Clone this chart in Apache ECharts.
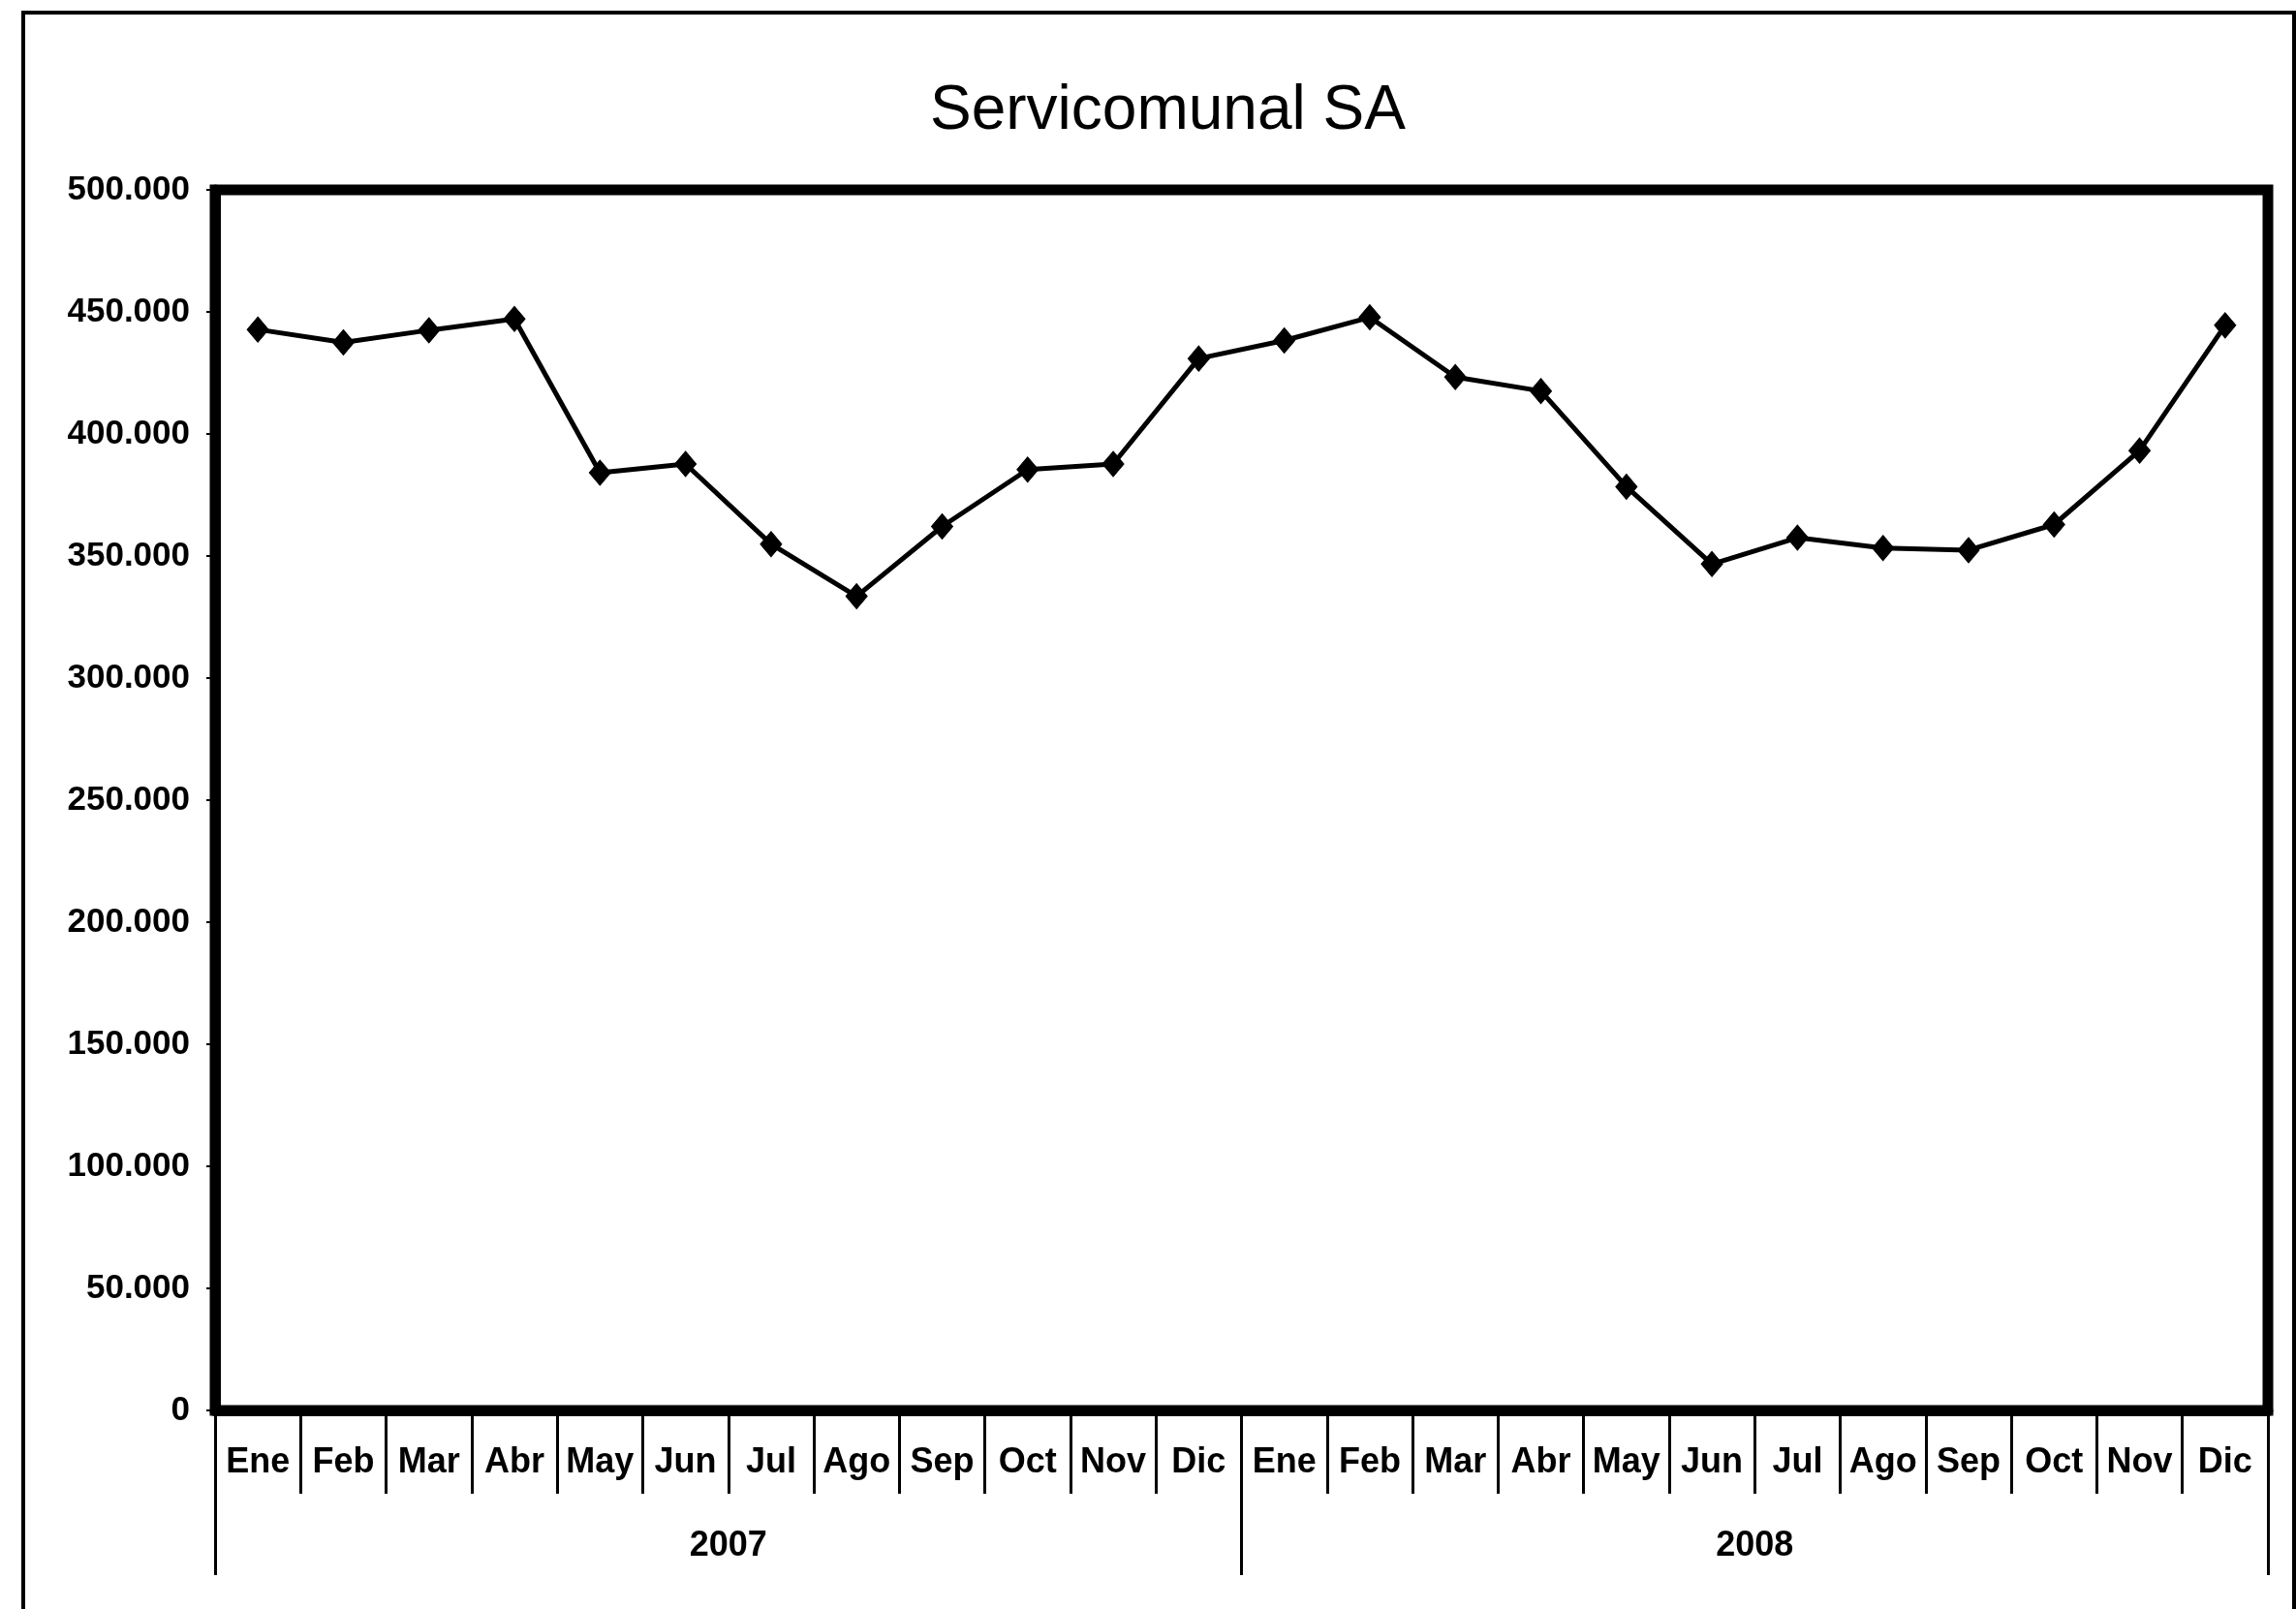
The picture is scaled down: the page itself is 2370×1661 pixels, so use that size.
<!DOCTYPE html>
<html>
<head>
<meta charset="utf-8">
<script src="https://cdn.jsdelivr.net/npm/echarts@6/dist/echarts.min.js"></script>
<style>
  html, body { margin: 0; padding: 0; background: #fff; }
  #chart { width: 2370px; height: 1661px; }
</style>
</head>
<body>
<div id="chart"></div>
<script>
const titleText = "Servicomunal SA";
const months = ["Ene","Feb","Mar","Abr","May","Jun","Jul","Ago","Sep","Oct","Nov","Dic",
                "Ene","Feb","Mar","Abr","May","Jun","Jul","Ago","Sep","Oct","Nov","Dic"];
const years = ["2007", "2008"];
const values = [442800, 437500, 442500, 447100, 384100, 387700, 354900, 333500, 362100, 385400, 387700, 430900,
                438300, 447800, 423300, 417600, 378400, 346700, 357500, 353300, 352400, 362900, 393200, 444500];
const yMin = 0, yMax = 500000, yStep = 50000;

const FONT = "'Liberation Sans', Arial, sans-serif";
const chart = echarts.init(document.getElementById('chart'), null, { renderer: 'canvas' });

function fmt(v) {
  return String(v).replace(/\B(?=(\d{3})+(?!\d))/g, '.');
}

chart.setOption({
  backgroundColor: '#ffffff',
  animation: false,
  title: {
    text: titleText,
    left: 955,
    top: 78,
    textStyle: { fontFamily: FONT, fontSize: 64, fontWeight: 'normal', color: '#000' }
  },
  graphic: [{
    type: 'rect',
    shape: { x: 24, y: 13, width: 2344, height: 1700 },
    style: { fill: 'none', stroke: '#000', lineWidth: 4 },
    silent: true
  }],
  grid: {
    left: 222, right: 29, top: 196, bottom: 205,
    show: true, borderColor: '#000', borderWidth: 11, backgroundColor: '#fff'
  },
  xAxis: [{
    type: 'category',
    data: months,
    position: 'bottom',
    boundaryGap: true,
    axisLine: { show: true, lineStyle: { color: '#000', width: 11 } },
    axisTick: { show: true, interval: 0, length: 86, inside: false, lineStyle: { color: '#000', width: 3 } },
    axisLabel: { interval: 0, margin: 36, fontFamily: FONT, fontSize: 36, fontWeight: 'bold', color: '#000' },
    splitLine: { show: false }
  }, {
    type: 'category',
    data: years,
    position: 'bottom',
    boundaryGap: true,
    axisLine: { show: false },
    axisTick: { show: true, interval: 0, length: 170, lineStyle: { color: '#000', width: 3 } },
    axisLabel: { interval: 0, margin: 122, fontFamily: FONT, fontSize: 36, fontWeight: 'bold', color: '#000' },
    splitLine: { show: false }
  }],
  yAxis: {
    type: 'value',
    min: yMin, max: yMax, interval: yStep,
    axisLine: { show: true, lineStyle: { color: '#000', width: 11 } },
    axisTick: { show: true, length: 9, lineStyle: { color: '#000', width: 2 } },
    axisLabel: { margin: 26, fontFamily: FONT, fontSize: 35, fontWeight: 'bold', color: '#000',
                 formatter: fmt },
    splitLine: { show: false }
  },
  series: [{
    type: 'line',
    data: values,
    xAxisIndex: 0,
    symbol: 'diamond',
    symbolSize: [22, 26],
    lineStyle: { color: '#000', width: 5 },
    itemStyle: { color: '#000', borderColor: '#000' }
  }]
});
</script>
</body>
</html>
